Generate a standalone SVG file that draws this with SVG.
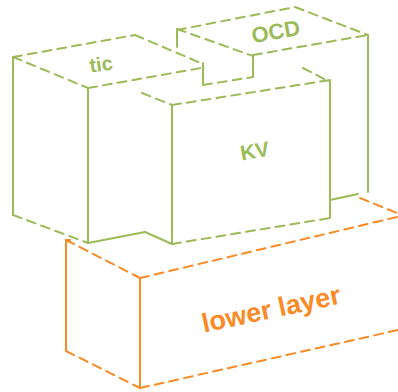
<svg xmlns="http://www.w3.org/2000/svg" width="398" height="392" viewBox="0 0 398 392">
<style>
.g{stroke:#9bbb59;stroke-width:2;fill:none;stroke-linecap:round}
.o{stroke:#f98b27;stroke-width:2;fill:none;stroke-linecap:round}
.d{stroke-dasharray:9 6}
.gt{fill:#9bbb59;font-family:"Liberation Sans",Arial,sans-serif;font-weight:bold;font-size:20px;text-anchor:middle}
.ot{fill:#f98b27;font-family:"Liberation Sans",Arial,sans-serif;font-weight:bold;font-size:27px;text-anchor:middle}
</style>
<rect width="398" height="392" fill="#fff"/>
<g id="lower">
<path class="o" d="M70 240H66V351M140 278V388"/>
<path class="o d" d="M66 240L140 278M140 278L397 217M360 198L397 213M66 351L140 388M140 388L398 330"/>
<text class="ot" transform="translate(273,318) rotate(-12)">lower layer</text>
</g>
<g id="tic">
<path class="g" d="M13 57V215M88 88V243M203 63V85M88 243L145 232"/>
<path class="g d" d="M13 57L135 35M135 35L203 64M13 57L88 88M88 88L201 68M13 215L88 243M203 85L253 77"/>
<text class="gt" transform="translate(102,71) rotate(-8)">tic</text>
</g>
<g id="OCD">
<path class="g" d="M177 30V47M253 55V77M368 35V192"/>
<path class="g d" d="M177 30L295 7M295 7L368 35M177 29L253 56M253 55L368 35"/>
<text class="gt" style="font-size:22px" transform="translate(277,39) rotate(-10)">OCD</text>
</g>
<g id="KV">
<path class="g" d="M172 105V244M330 80V218M145 232L172 244M330 200L358 194"/>
<path class="g d" d="M142 93L172 105M172 105L330 80M303 68L330 82M172 244L330 218"/>
<text class="gt" style="font-size:21px" transform="translate(256,158) rotate(-10)">KV</text>
</g>
</svg>
